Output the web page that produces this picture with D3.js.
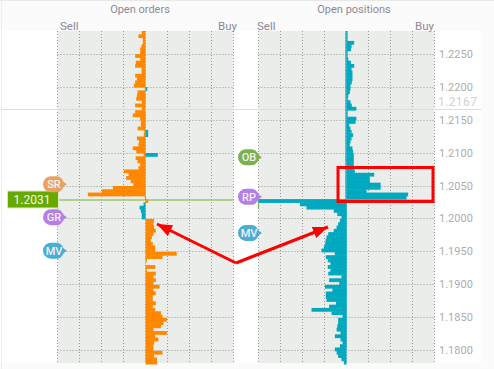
<!DOCTYPE html>
<html>
<head>
<meta charset="utf-8">
<title>Open orders and open positions</title>
<script src="https://cdnjs.cloudflare.com/ajax/libs/d3/7.8.5/d3.min.js"></script>
<style>
  html, body { margin: 0; padding: 0; background: #fff; }
  svg { display: block; font-family: Roboto, "Noto Sans", sans-serif; }
</style>
</head>
<body>
<div id="chart"></div>
<script>
// Price labels on the right hand axis
var priceTicks = [1.225, 1.22, 1.215, 1.21, 1.205, 1.2, 1.195, 1.19, 1.185, 1.18];
var currentPrice = 1.2031;
var closePrice = 1.2167;

// One row per 5 pip bucket, top to bottom. Unit = one grid column.
// Orange bars of the orders panel, negative = sell side
var ordersOrange = [
  -.17, -.32, -.12, -.12, -.18, -.24, -.24, -.47, -.24, -.44, -.47, -.18, -.18, -.47, -.39, -.47, -.53, -.03,
  -.36, -.39, -.42, -.17, -.47, -.17, -.47, -.58, -.24, -.21, -.21, -.36, -.06, -.08, -.39, -.29, -.32, -.58,
  -.42, -.09, -.45, -.36, -.24, -.32, -.98, -.77, -.88, -.67, -.55, -1.48, -1.98, -2.62, -.03,
  .12, 0, 0, 0, 0, 0,
  .39, .36, .39, .47, .36, .29, .24, .33, .44, .44, 1.42, .77, .06, .02, .44, .06, .47, .36, .47, .36, .64,
  .36, .47, .33, .33, .47, .33, .44, .7, .77, .97, .82, .7, .36, .97, .44, .59, .39, .36, .36, .77, .39, .52, .52
];
// Teal bars of the orders panel
var ordersTeal = [
  0, 0, 0, 0, 0, 0, 0, 0, 0, 0, 0, 0, 0, 0, 0, 0, 0, .08,
  0, 0, 0, 0, 0, 0, 0, 0, 0, 0, 0, 0, .12, .12, 0, 0, 0, 0,
  0, .56, 0, 0, 0, 0, 0, 0, 0, 0, 0, 0, 0, 0, .02,
  0, -.09, -.27, -.21, -.17, -.17,
  0, 0, 0, 0, 0, 0, 0, 0, 0, 0, 0, 0, 0, 0, 0, 0, 0,
  0, 0, 0, 0, 0, 0, 0, 0, 0, 0, 0, 0, 0, 0, 0, 0, 0, 0, 0, 0, 0, 0, 0, 0
];
// Open positions panel
var positionsBuy = [
  .05, .05, .05, .35, .23, .2, .05, .05, .08, .2, .35, .23, .27, .27, .27, .24, .18, .18,
  .15, .08, .06, .18, .24, .45, .05, .05, .45, .41, .12, .18, .23, .3, .23, .18, .15, .27,
  .3, .33, .33, .33, .33, .33, .38, 1.26, 1.06, 1.06, 1.55, 1.55, .91, 2.8, 2.73,
  .02, .02, .02, .02, .02, .02,
  .02, .02, .02, .02, .02, .02, .02, .02, .02, .02, .02, .02, .02, .02, .02, .02, .02,
  .02, .02, .02, .02, .02, .02, .02, .02, .02, .02, .02, .02, .02, .02, .02, .02, .02, .02, .02, .02, .02, .02
];
var positionsSell = [
  .05, .05, .05, .05, .05, .05, .05, .05, .05, .05, .05, .05, .05, .05, .05, .05, .05, .05,
  .05, .05, .05, .05, .05, .05, .05, .05, .05, .05, .05, .05, .05, .05, .05, .05, .05, .05,
  .05, .05, .05, .05, .05, .05, .05, .05, .05, .05, .05, .05, .05, .05, .05,
  4, 2.12, 1.82, .58, .42, .23,
  .3, .38, .45, .58, .83, .91, .95, .97, 1.03, 1.14, .53, .94, .85, .73, .85, .73, .83,
  .23, .79, .33, .98, .64, .94, .94, .91, .48, .79, 1.59, .68, .18, .38, .38, .42, .45, .27, .53, .27, .18, .3, .53, .45, .38, .23, .12
];

// Balloon markers
var orderBalloons = ["SR", "GR", "MV"];
var orderBalloonPrices = [1.2052, 1.2002, 1.1951];
var orderBalloonColors = ["#e8a264", "#b57ee8", "#4aadd6"];
var positionBalloons = ["OB", "RP", "MV"];
var positionBalloonPrices = [1.2093, 1.2033, 1.1978];
var positionBalloonColors = ["#7cb24e", "#b57ee8", "#4aadd6"];

function init() {
    var w = 494;
    var h = 369;
    var plotTop = 31;
    var plotBottom = 363;
    var panelW = 176;
    var ordersLeft = 57.5;
    var positionsLeft = 258.5;

    var svg = d3.select("#chart")
                .append("svg")
                .attr("width", w)
                .attr("height", h);

    // Page furniture
    svg.append("rect").attr("width", w).attr("height", h).attr("fill", "#fff");
    svg.append("rect").attr("width", w).attr("height", plotTop).attr("fill", "#fbfbfb");
    svg.append("rect").attr("y", plotBottom).attr("width", w).attr("height", h - plotBottom).attr("fill", "#fbfbfb");
    svg.append("rect").attr("x", 481).attr("width", w - 481).attr("height", h).attr("fill", "#fbfbfb");
    svg.append("rect").attr("width", w).attr("height", 1).attr("fill", "#e8e8e8");
    svg.append("rect").attr("x", 1).attr("width", 1).attr("height", h).attr("fill", "#eeeeee");

    // Define scales
    var yScale = d3.scaleLinear().domain([1.18, 1.225]).range([350, 54]);
    var rowScale = d3.scaleBand()
                     .domain(d3.range(ordersOrange.length))
                     .range([plotTop, plotBottom + 1])
                     .paddingInner(0);

    function drawPanel(left, title, titleX, sellX, buyX) {
        var xScale = d3.scaleLinear().domain([-4, 4]).range([left, left + panelW]);
        var panel = svg.append("g");

        panel.append("rect")
             .attr("x", left)
             .attr("y", plotTop)
             .attr("width", panelW)
             .attr("height", plotBottom - plotTop)
             .attr("fill", "#ebedea");

        // Horizontal grid from the price ticks
        panel.selectAll(".hgrid")
             .data(priceTicks)
             .enter().append("line")
             .attr("class", "hgrid")
             .attr("x1", left)
             .attr("x2", left + panelW)
             .attr("y1", function(d) { return Math.round(yScale(d)) + 0.5; })
             .attr("y2", function(d) { return Math.round(yScale(d)) + 0.5; })
             .style("stroke", "#9a9a9a")
             .style("stroke-dasharray", "1,2");

        // Vertical grid, one line per unit
        panel.selectAll(".vgrid")
             .data(d3.range(-4, 5))
             .enter().append("line")
             .attr("class", "vgrid")
             .attr("x1", function(d) { return xScale(d); })
             .attr("x2", function(d) { return xScale(d); })
             .attr("y1", plotTop)
             .attr("y2", plotBottom)
             .style("stroke", "#9a9a9a")
             .style("stroke-dasharray", "1,2");

        // Titles
        svg.append("text")
           .attr("x", titleX)
           .attr("y", 13)
           .attr("text-anchor", "middle")
           .attr("font-size", 11)
           .attr("fill", "#8a8a94")
           .text(title);
        svg.append("text")
           .attr("x", sellX)
           .attr("y", 30)
           .attr("font-size", 11.5)
           .attr("fill", "#8a8a94")
           .text("Sell");
        svg.append("text")
           .attr("x", buyX)
           .attr("y", 30)
           .attr("font-size", 11.5)
           .attr("fill", "#8a8a94")
           .text("Buy");

        return xScale;
    }

    function drawBars(xScale, values, color) {
        svg.append("g")
           .selectAll("rect")
           .data(values)
           .enter().append("rect")
           .attr("x", function(d) { return Math.min(xScale(0), xScale(d)); })
           .attr("y", function(d, i) { return rowScale(i); })
           .attr("width", function(d) { return Math.abs(xScale(d) - xScale(0)); })
           .attr("height", rowScale.bandwidth() + 0.5)
           .attr("fill", color);
    }

    var ordersX = drawPanel(ordersLeft, "Open orders", 140, 60, 218);
    var positionsX = drawPanel(positionsLeft, "Open positions", 354, 257, 415);

    // Close price line runs across the whole page
    svg.append("line")
       .attr("x1", 2)
       .attr("x2", 481)
       .attr("y1", Math.round(yScale(closePrice)) + 0.5)
       .attr("y2", Math.round(yScale(closePrice)) + 0.5)
       .style("stroke", "#dcdcdc");

    // Current price line in both panels
    [ordersX, positionsX].forEach(function(xs) {
        svg.append("line")
           .attr("x1", xs(-4))
           .attr("x2", xs(4))
           .attr("y1", yScale(currentPrice) + 2)
           .attr("y2", yScale(currentPrice) + 2)
           .style("stroke", "#9dc66c")
           .style("stroke-width", 1.5);
    });
    svg.append("line")
       .attr("x1", positionsX(-4))
       .attr("x2", positionsX(-4))
       .attr("y1", yScale(currentPrice) + 2)
       .attr("y2", yScale(currentPrice) + 10)
       .style("stroke", "#7fae45");

    drawBars(ordersX, ordersOrange, "#ff8800");
    drawBars(ordersX, ordersTeal, "#00a8c0");
    drawBars(positionsX, positionsBuy, "#00a8c0");
    drawBars(positionsX, positionsSell.map(function(d) { return -d; }), "#00a8c0");

    // Price axis labels
    svg.append("g")
       .selectAll("text")
       .data(priceTicks)
       .enter().append("text")
       .attr("x", 439)
       .attr("y", function(d) { return yScale(d) + 4; })
       .attr("font-size", 11)
       .attr("fill", "#adadad")
       .text(function(d) { return d3.format(".4f")(d); });

    svg.append("text")
       .attr("x", 438)
       .attr("y", yScale(closePrice) - 3)
       .attr("font-size", 12)
       .attr("letter-spacing", 0.4)
       .attr("fill", "#cfcfcf")
       .text(d3.format(".4f")(closePrice));

    // Current price flag
    svg.append("rect")
       .attr("x", 7.5)
       .attr("y", 191)
       .attr("width", 51)
       .attr("height", 17)
       .attr("fill", "#66aa00")
       .style("stroke", "#dcebc4");
    svg.append("text")
       .attr("x", 32)
       .attr("y", 204)
       .attr("text-anchor", "middle")
       .attr("font-size", 12)
       .attr("fill", "#f2f7e8")
       .text(d3.format(".4f")(currentPrice));

    function drawBalloons(cx, labels, prices, colors) {
        var g = svg.append("g")
                   .selectAll("g")
                   .data(labels)
                   .enter().append("g")
                   .attr("transform", function(d, i) {
                       return "translate(" + cx + "," + yScale(prices[i]) + ")";
                   });
        g.append("path")
         .attr("d", "M-3,-8A8,8 0 0 0 -3,8L3,8Q7,8 10,2L13,0L10,-2Q7,-8 3,-8Z")
         .attr("fill", function(d, i) { return colors[i]; });
        g.append("text")
         .attr("x", 0)
         .attr("y", 4)
         .attr("text-anchor", "middle")
         .attr("font-size", 11)
         .attr("font-weight", 500)
         .attr("fill", "#f3f3f3")
         .text(function(d) { return d; });
    }
    drawBalloons(54, orderBalloons, orderBalloonPrices, orderBalloonColors);
    drawBalloons(249, positionBalloons, positionBalloonPrices, positionBalloonColors);

    // Hand drawn annotation: two arrows and a box
    svg.append("defs").append("marker")
       .attr("id", "head")
       .attr("viewBox", "0 0 10 8")
       .attr("refX", 10)
       .attr("refY", 4)
       .attr("markerUnits", "userSpaceOnUse")
       .attr("markerWidth", 16)
       .attr("markerHeight", 12)
       .attr("orient", "auto")
       .append("path")
       .attr("d", "M0,0L10,4L0,8Z")
       .attr("fill", "#ff0000");

    [[157, 224], [328, 227]].forEach(function(tip) {
        svg.append("line")
           .attr("x1", 236)
           .attr("y1", 263)
           .attr("x2", tip[0])
           .attr("y2", tip[1])
           .attr("marker-end", "url(#head)")
           .style("stroke", "#ff0000")
           .style("stroke-width", 3);
    });
    svg.append("rect")
       .attr("x", 338)
       .attr("y", 167.5)
       .attr("width", 95)
       .attr("height", 34)
       .attr("fill", "none")
       .style("stroke", "#ff0000")
       .style("stroke-width", 3);
}

// Initialize the chart on page load
window.onload = init;
</script>
</body>
</html>
